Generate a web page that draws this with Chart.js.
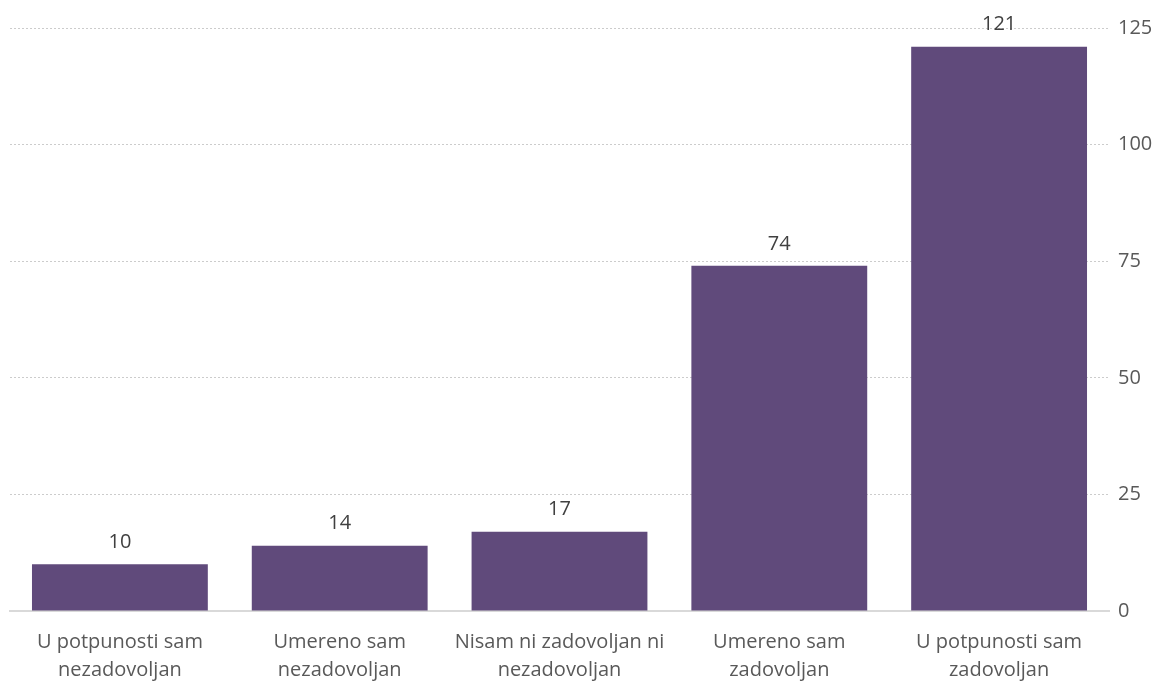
<!DOCTYPE html>
<html>
<head>
<meta charset="utf-8">
<script src="https://cdn.jsdelivr.net/npm/chart.js@4/dist/chart.umd.min.js"></script>
<style>
  html, body { margin: 0; padding: 0; background: #fff; }
  #wrap { width: 1171px; height: 684px; }
</style>
</head>
<body>
<div id="wrap"><canvas id="chart" width="1171" height="684"></canvas></div>
<script>
// Data
const categories = [
  ["U potpunosti sam", "nezadovoljan"],
  ["Umereno sam", "nezadovoljan"],
  ["Nisam ni zadovoljan ni", "nezadovoljan"],
  ["Umereno sam", "zadovoljan"],
  ["U potpunosti sam", "zadovoljan"]
];
const counts = [10, 14, 17, 74, 121];
const yTicks = [0, 25, 50, 75, 100, 125];

// Value labels above bars
const barLabels = {
  id: "barLabels",
  afterDatasetsDraw(chart) {
    const ctx = chart.ctx;
    const meta = chart.getDatasetMeta(0);
    ctx.save();
    ctx.font = "20px 'Open Sans'";
    ctx.fillStyle = "#404040";
    ctx.textAlign = "center";
    ctx.textBaseline = "bottom";
    meta.data.forEach((bar, i) => {
      ctx.fillText(counts[i], bar.x, bar.y - 12);
    });
    ctx.restore();
  }
};

new Chart(document.getElementById("chart").getContext("2d"), {
  type: "bar",
  data: {
    labels: categories,
    datasets: [{
      data: counts,
      backgroundColor: "#604a7b",
      categoryPercentage: 0.8,
      barPercentage: 1.0
    }]
  },
  options: {
    responsive: false,
    animation: false,
    layout: { padding: { left: 10, top: 28, right: 0, bottom: 0 } },
    plugins: { legend: { display: false }, tooltip: { enabled: false } },
    scales: {
      x: {
        grid: { display: false },
        border: { display: true, color: "#d9d9d9", width: 2 },
        ticks: {
          color: "#595959",
          font: { family: "'Open Sans'", size: 20, lineHeight: 1.4 },
          padding: 9,
          maxRotation: 0,
          autoSkip: false
        },
        afterFit(scale) { scale.height = 73; }
      },
      y: {
        position: "right",
        min: 0,
        max: 125,
        afterBuildTicks(scale) { scale.ticks = yTicks.map(v => ({ value: v })); },
        grid: {
          drawTicks: false,
          color: ctx => ctx.tick && ctx.tick.value === 0 ? "rgba(0,0,0,0)" : "#cccccc",
          lineWidth: 1
        },
        border: { display: false, dash: [2, 2] },
        ticks: {
          color: "#595959",
          font: { family: "'Open Sans'", size: 20 },
          padding: 9
        },
        afterFit(scale) { scale.width = 62; }
      }
    }
  },
  plugins: [barLabels]
});
</script>
</body>
</html>
